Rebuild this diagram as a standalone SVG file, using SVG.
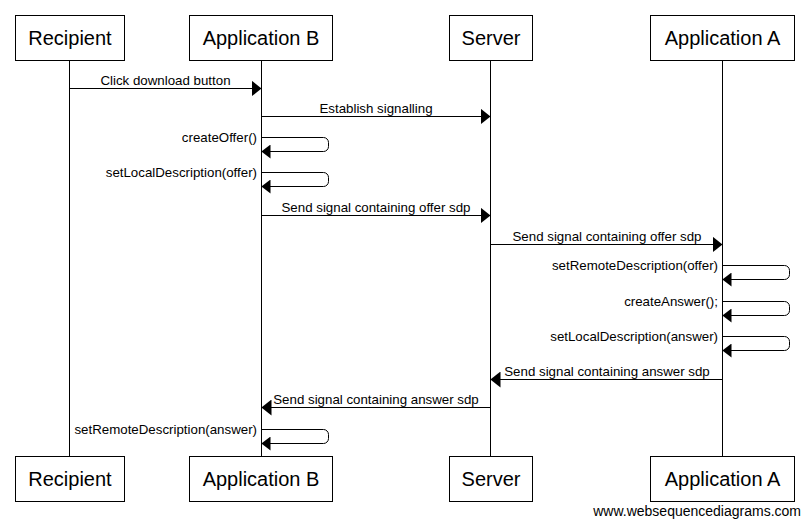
<svg xmlns="http://www.w3.org/2000/svg" width="810" height="526" viewBox="0 0 810 526">
<style>
  .box { fill: #fff; stroke: #000; stroke-width: 1; }
  .life { stroke: #000; stroke-width: 1; fill: none; }
  .pl { font-family: "Liberation Sans", Arial, sans-serif; font-size: 20px; fill: #000; text-anchor: middle; }
  .msg { stroke: #000; stroke-width: 1; fill: none; }
  .lbl { font-family: "Liberation Sans", Arial, sans-serif; font-size: 13.3px; fill: #000; text-anchor: middle; }
  .slbl { font-family: "Liberation Sans", Arial, sans-serif; font-size: 13.3px; fill: #000; text-anchor: end; }
  .wm { font-family: "Liberation Sans", Arial, sans-serif; font-size: 14px; fill: #000; text-anchor: end; }
</style>
<defs>
  <marker id="ah" markerWidth="10" markerHeight="16" refX="10" refY="8" orient="auto" markerUnits="userSpaceOnUse">
    <path d="M0,0 L10,8 L0,16 Z" fill="#000"/>
  </marker>
  <marker id="sah" markerWidth="9" markerHeight="14" refX="9" refY="7" orient="auto" markerUnits="userSpaceOnUse">
    <path d="M0,0 L9,7 L0,14 Z" fill="#000"/>
  </marker>
</defs>
<rect width="810" height="526" fill="#fff"/>

<g id="recipient">
  <line class="life" x1="69.5" y1="60.5" x2="69.5" y2="456.5"/>
  <rect class="box" x="15.5" y="15.5" width="109" height="45"/>
  <text class="pl" x="70" y="45">Recipient</text>
  <rect class="box" x="15.5" y="456.5" width="109" height="45"/>
  <text class="pl" x="70" y="486">Recipient</text>
</g>
<g id="application-b">
  <line class="life" x1="261.5" y1="60.5" x2="261.5" y2="456.5"/>
  <rect class="box" x="189.5" y="15.5" width="143" height="45"/>
  <text class="pl" x="261" y="45">Application B</text>
  <rect class="box" x="189.5" y="456.5" width="143" height="45"/>
  <text class="pl" x="261" y="486">Application B</text>
</g>
<g id="server">
  <line class="life" x1="490.5" y1="60.5" x2="490.5" y2="456.5"/>
  <rect class="box" x="449.5" y="15.5" width="83" height="45"/>
  <text class="pl" x="491" y="45">Server</text>
  <rect class="box" x="449.5" y="456.5" width="83" height="45"/>
  <text class="pl" x="491" y="486">Server</text>
</g>
<g id="application-a">
  <line class="life" x1="722.5" y1="60.5" x2="722.5" y2="456.5"/>
  <rect class="box" x="650.5" y="15.5" width="144" height="45"/>
  <text class="pl" x="722.5" y="45">Application A</text>
  <rect class="box" x="650.5" y="456.5" width="144" height="45"/>
  <text class="pl" x="722.5" y="486">Application A</text>
</g>

<g id="connectors">
  <line class="msg" x1="69.5" y1="88.5" x2="261.5" y2="88.5" marker-end="url(#ah)"/>
  <text class="lbl" x="165.5" y="85">Click download button</text>

  <line class="msg" x1="261.5" y1="116.5" x2="490.5" y2="116.5" marker-end="url(#ah)"/>
  <text class="lbl" x="376" y="113">Establish signalling</text>

  <path class="msg" d="M261.5,137.5 H323.5 A5,5 0 0 1 328.5,142.5 V146.5 A5,5 0 0 1 323.5,151.5 H261.5" marker-end="url(#sah)"/>
  <text class="slbl" x="257" y="142">createOffer()</text>

  <path class="msg" d="M261.5,172.5 H323.5 A5,5 0 0 1 328.5,177.5 V181.5 A5,5 0 0 1 323.5,186.5 H261.5" marker-end="url(#sah)"/>
  <text class="slbl" x="257" y="177">setLocalDescription(offer)</text>

  <line class="msg" x1="261.5" y1="215.5" x2="490.5" y2="215.5" marker-end="url(#ah)"/>
  <text class="lbl" x="376" y="212">Send signal containing offer sdp</text>

  <line class="msg" x1="490.5" y1="244.5" x2="722.5" y2="244.5" marker-end="url(#ah)"/>
  <text class="lbl" x="607" y="241">Send signal containing offer sdp</text>

  <path class="msg" d="M722.5,265.5 H784.5 A5,5 0 0 1 789.5,270.5 V274.5 A5,5 0 0 1 784.5,279.5 H722.5" marker-end="url(#sah)"/>
  <text class="slbl" x="718" y="270">setRemoteDescription(offer)</text>

  <path class="msg" d="M722.5,301.5 H784.5 A5,5 0 0 1 789.5,306.5 V310.5 A5,5 0 0 1 784.5,315.5 H722.5" marker-end="url(#sah)"/>
  <text class="slbl" x="718" y="306">createAnswer();</text>

  <path class="msg" d="M722.5,336.5 H784.5 A5,5 0 0 1 789.5,341.5 V345.5 A5,5 0 0 1 784.5,350.5 H722.5" marker-end="url(#sah)"/>
  <text class="slbl" x="718" y="341">setLocalDescription(answer)</text>

  <line class="msg" x1="722.5" y1="379.5" x2="490.5" y2="379.5" marker-end="url(#ah)"/>
  <text class="lbl" x="607" y="376">Send signal containing answer sdp</text>

  <line class="msg" x1="490.5" y1="407.5" x2="261.5" y2="407.5" marker-end="url(#ah)"/>
  <text class="lbl" x="376" y="404">Send signal containing answer sdp</text>

  <path class="msg" d="M261.5,429.5 H323.5 A5,5 0 0 1 328.5,434.5 V438.5 A5,5 0 0 1 323.5,443.5 H261.5" marker-end="url(#sah)"/>
  <text class="slbl" x="257" y="434">setRemoteDescription(answer)</text>
</g>

<text class="wm" x="801" y="516">www.websequencediagrams.com</text>
</svg>
